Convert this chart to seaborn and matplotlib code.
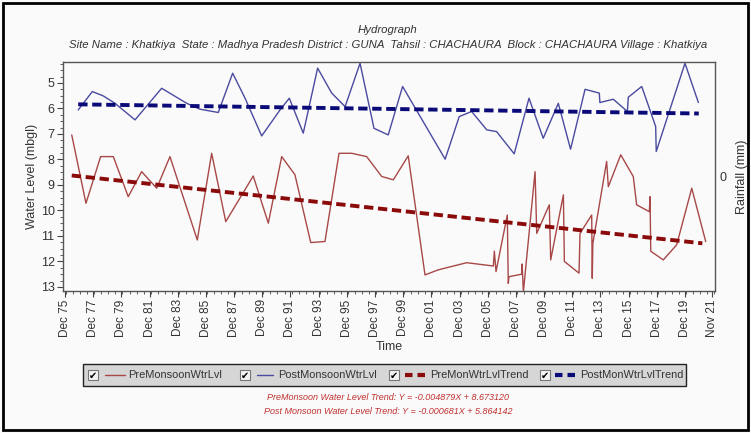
import matplotlib
matplotlib.use("Agg")
import matplotlib.pyplot as plt
import seaborn as sns
import pandas as pd
from matplotlib.patches import Rectangle
from matplotlib.lines import Line2D
from matplotlib.ticker import MultipleLocator

# ---------------- data ----------------
pre_years = [1976.40, 1977.41, 1978.45, 1979.35, 1980.41, 1981.36, 1982.43, 1983.37,
             1985.31, 1986.33, 1987.33, 1989.28, 1990.35, 1991.30, 1992.24, 1993.36,
             1994.37, 1995.37, 1996.27, 1997.33, 1998.40, 1999.22, 2000.28, 2001.47,
             2002.41, 2004.43, 2006.32, 2006.39, 2006.51, 2007.31, 2007.38, 2007.43,
             2008.33, 2008.36, 2008.45, 2009.28, 2009.40, 2010.29, 2010.39, 2011.29,
             2011.36, 2012.40, 2012.47, 2013.30, 2013.34, 2013.38, 2014.36, 2014.48,
             2015.36, 2016.25, 2016.49, 2017.39, 2017.44, 2017.49, 2018.38, 2019.33,
             2020.40, 2021.39]
pre_level = [7.04, 9.72, 7.89, 7.89, 9.46, 8.48, 9.13, 7.89,
             11.16, 7.76, 10.44, 8.65, 10.50, 7.89, 8.60, 11.26,
             11.22, 7.76, 7.76, 7.89, 8.67, 8.80, 7.86, 12.53,
             12.33, 12.05, 12.18, 11.60, 12.40, 10.18, 12.86, 12.60,
             12.50, 12.10, 13.20, 8.48, 10.90, 9.78, 11.94, 9.39,
             12.00, 12.46, 10.90, 10.18, 12.66, 11.30, 8.08, 9.07,
             7.82, 8.67, 9.78, 10.05, 9.46, 11.60, 11.94, 11.35,
             9.13, 11.22]

post_years = [1976.86, 1977.86, 1978.64, 1979.47, 1980.89, 1982.78, 1984.56, 1985.50,
              1986.80, 1987.82, 1988.70, 1989.88, 1991.18, 1991.84, 1992.83, 1993.85,
              1994.85, 1995.80, 1996.86, 1997.85, 1998.86, 1999.88, 2002.90, 2003.90,
              2004.78, 2005.85, 2006.55, 2007.80, 2008.85, 2009.86, 2010.93, 2011.80,
              2012.83, 2013.84, 2013.88, 2014.83, 2015.83, 2015.90, 2016.85, 2017.84,
              2017.88, 2019.92, 2020.87]
post_level = [6.06, 5.34, 5.51, 5.80, 6.45, 5.21, 5.80, 6.03,
              6.16, 4.62, 5.60, 7.08, 6.06, 5.60, 6.97, 4.42,
              5.40, 5.93, 4.23, 6.78, 7.04, 5.14, 7.99, 6.32,
              6.12, 6.84, 6.91, 7.78, 5.60, 7.17, 5.80, 7.60,
              5.25, 5.40, 5.77, 5.64, 6.12, 5.56, 5.14, 6.71,
              7.69, 4.23, 5.77]

pre_trend_years = [1976.40, 2021.15]
pre_trend_level = [8.63, 11.29]
post_trend_years = [1976.86, 2020.90]
post_trend_level = [5.84, 6.20]

tick_pos = [1975.92 + 2 * i for i in range(23)] + [2021.83]
tick_labels = ["Dec 75", "Dec 77", "Dec 79", "Dec 81", "Dec 83", "Dec 85", "Dec 87",
               "Dec 89", "Dec 91", "Dec 93", "Dec 95", "Dec 97", "Dec 99", "Dec 01",
               "Dec 03", "Dec 05", "Dec 07", "Dec 09", "Dec 11", "Dec 13", "Dec 15",
               "Dec 17", "Dec 19", "Nov 21"]
y_ticks = [5, 6, 7, 8, 9, 10, 11, 12, 13]

legend_labels = ["PreMonsoonWtrLvl", "PostMonsoonWtrLvl", "PreMonWtrLvlTrend", "PostMonWtrLvlTrend"]
title1 = "Hydrograph"
title2 = ("Site Name : Khatkiya  State : Madhya Pradesh District : GUNA  Tahsil : CHACHAURA  "
          "Block : CHACHAURA Village : Khatkiya")
trend_text1 = "PreMonsoon Water Level Trend: Y = -0.004879X + 8.673120"
trend_text2 = "Post Monsoon Water Level Trend: Y = -0.000681X + 5.864142"

# ---------------- style ----------------
sns.set_style("ticks")
plt.rcParams["font.family"] = ["Liberation Sans", "DejaVu Sans"]
BG = "#fafafa"
RED = "#a84848"
BLUE = "#4a4aa0"
DRED = "#8b0a0a"
DBLUE = "#0a0a78"
TXT = "#333333"
DASH = (0, (2.4, 1.2))

W, H = 751, 433
fig = plt.figure(figsize=(W / 100, H / 100), dpi=100, facecolor=BG)

def fx(x):
    return x / W

def fy(y):
    return 1 - y / H

ax = fig.add_axes([fx(63), fy(291), fx(715) - fx(63), fy(62) - fy(291)])
ax.set_facecolor(BG)

pre_df = pd.DataFrame({"t": pre_years, "v": pre_level})
post_df = pd.DataFrame({"t": post_years, "v": post_level})
pre_tr = pd.DataFrame({"t": pre_trend_years, "v": pre_trend_level})
post_tr = pd.DataFrame({"t": post_trend_years, "v": post_trend_level})

sns.lineplot(data=pre_df, x="t", y="v", ax=ax, sort=False, estimator=None, color=RED, lw=1.0)
sns.lineplot(data=post_df, x="t", y="v", ax=ax, sort=False, estimator=None, color=BLUE, lw=1.0)
sns.lineplot(data=pre_tr, x="t", y="v", ax=ax, sort=False, estimator=None, color=DRED, lw=2.8,
             linestyle=DASH)
sns.lineplot(data=post_tr, x="t", y="v", ax=ax, sort=False, estimator=None, color=DBLUE, lw=2.8,
             linestyle=DASH)

ax.set_xlim(1975.78, 2022.05)
ax.set_ylim(13.16, 4.18)
ax.set_xticks(tick_pos)
ax.set_xticklabels(tick_labels, rotation=90, fontsize=8.5, color=TXT)
ax.set_yticks(y_ticks)
ax.set_yticklabels([str(v) for v in y_ticks], fontsize=9, color=TXT)
ax.yaxis.set_minor_locator(MultipleLocator(0.25))
ax.xaxis.set_minor_locator(MultipleLocator(0.5))
ax.tick_params(axis="both", which="major", length=4, width=0.8, color="#444444", pad=2)
ax.tick_params(axis="both", which="minor", length=2, width=0.6, color="#444444")
for s in ax.spines.values():
    s.set_color("#555555")
    s.set_linewidth(1.0)
ax.set_xlabel("Time", fontsize=9, color=TXT, labelpad=3)
ax.set_ylabel("Water Level (mbgl)", fontsize=9, color=TXT)
ax.yaxis.set_label_coords((38 - 63) / 652, 0.5)

ax2 = ax.twinx()
ax2.set_ylim(-1, 1)
ax2.set_yticks([0])
ax2.set_yticklabels(["0"], fontsize=9, color=TXT)
ax2.tick_params(axis="y", length=0, pad=3)
ax2.set_ylabel("Rainfall (mm)", fontsize=9, color=TXT)
ax2.yaxis.set_label_coords((736 - 63) / 652, 0.5)
for s in ax2.spines.values():
    s.set_visible(False)

# titles
fig.text(fx(388), fy(30), title1, ha="center", va="center", fontsize=8.2, style="italic", color=TXT)
fig.text(fx(388), fy(45), title2, ha="center", va="center", fontsize=8.2, style="italic", color=TXT)

# legend box (drawn manually)
fig.add_artist(Rectangle((fx(83), fy(386)), fx(686) - fx(83), fy(364) - fy(386),
                         transform=fig.transFigure, facecolor="#d6d6d6", edgecolor="#222222", lw=1.0))
entries = [
    (93, 105, 125, 128, RED, "-", 1.0),
    (245, 257, 273, 278, BLUE, "-", 1.0),
    (394, 405, 425, 430, DRED, (0, (1.8, 1.2)), 3.0),
    (545, 555, 575, 580, DBLUE, (0, (1.8, 1.2)), 3.0),
]
for (cb, l0, l1, tx, col, ls, lw), lab in zip(entries, legend_labels):
    fig.add_artist(Rectangle((fx(cb - 5), fy(380)), fx(10), fy(370) - fy(380),
                             transform=fig.transFigure, facecolor="#f4f4f4", edgecolor="#777777", lw=0.8))
    fig.text(fx(cb), fy(375.5), "\u2714", ha="center", va="center", fontsize=7,
             family="DejaVu Sans", color="black")
    fig.add_artist(Line2D([fx(l0), fx(l1)], [fy(375), fy(375)], transform=fig.transFigure,
                          color=col, lw=lw, linestyle=ls))
    fig.text(fx(tx), fy(375.5), lab, ha="left", va="center", fontsize=7.9, color=TXT)

fig.text(fx(388), fy(398), trend_text1, ha="center", va="center", fontsize=6.5,
         style="italic", color="#c03030")
fig.text(fx(388), fy(411), trend_text2, ha="center", va="center", fontsize=6.5,
         style="italic", color="#c03030")

# outer frame
fig.add_artist(Rectangle((fx(3), fy(430)), fx(745), fy(3) - fy(430), transform=fig.transFigure,
                         facecolor="none", edgecolor="black", lw=2.0))

fig.savefig("out.png", dpi=100, facecolor=BG)
